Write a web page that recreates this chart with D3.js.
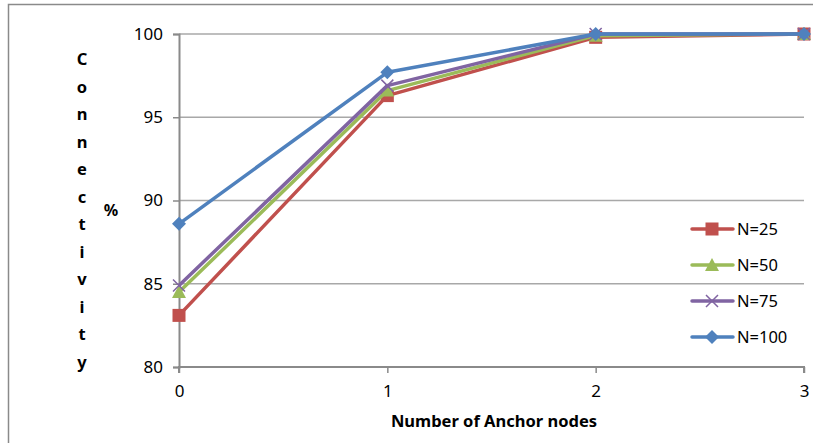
<!DOCTYPE html>
<html>
<head>
<meta charset="utf-8">
<script src="https://cdn.jsdelivr.net/npm/d3@7"></script>
<style>
  html, body { margin: 0; padding: 0; background: #fff; }
  svg { display: block; font-family: "Noto Sans", "Open Sans", sans-serif; }
</style>
</head>
<body>
<svg id="chart" width="813" height="443"></svg>
<script>
// Connectivity (%) versus number of anchor nodes, one line per network size
const anchors = [0, 1, 2, 3];
const yTicks = [80, 85, 90, 95, 100];
const seriesNames = ["N=25", "N=50", "N=75", "N=100"];
const n25  = [83.1, 96.3, 99.8, 100];
const n50  = [84.5, 96.6, 99.9, 100];
const n75  = [84.9, 96.9, 100, 100];
const n100 = [88.6, 97.7, 100, 100];
const seriesColors = ["#C0504D", "#9BBB59", "#8064A2", "#4F81BD"];
const seriesMarkers = ["square", "triangle", "cross", "diamond"];

const series = [n25, n50, n75, n100].map((vals, i) => ({
  name: seriesNames[i], color: seriesColors[i], marker: seriesMarkers[i],
  points: anchors.map((a, j) => ({ x: a, y: vals[j] }))
}));

const svg = d3.select("#chart");

// outer chart frame
svg.append("path")
  .attr("d", "M8.5,443 L8.5,4.5 L813,4.5")
  .attr("fill", "none").attr("stroke", "#8a8a8a").attr("stroke-width", 1.5);

const x = d3.scaleLinear().domain([0, 3]).range([179, 804]);
const y = d3.scaleLinear().domain([80, 100]).range([367, 34]);

// horizontal gridlines
svg.append("g").selectAll("line").data(yTicks.filter(t => t !== 80)).join("line")
  .attr("x1", x(0)).attr("x2", x(3))
  .attr("y1", d => y(d)).attr("y2", d => y(d))
  .attr("stroke", "#a8a8a8").attr("stroke-width", 1.5);

// y axis
const yAxis = svg.append("g").attr("transform", `translate(${x(0)},0)`)
  .call(d3.axisLeft(y).tickValues(yTicks).tickSize(6).tickPadding(10));
yAxis.select(".domain").attr("stroke", "#8a8a8a").attr("stroke-width", 2);
yAxis.selectAll(".tick line").attr("stroke", "#8a8a8a").attr("stroke-width", 1.5);
yAxis.selectAll(".tick text").attr("font-size", 17).attr("fill", "#000")
  .attr("font-family", "'Noto Sans', sans-serif");

// x axis
const xAxis = svg.append("g").attr("transform", `translate(0,${y(80)})`)
  .call(d3.axisBottom(x).tickValues(anchors).tickFormat(d3.format("d")).tickSize(6).tickPadding(12));
xAxis.select(".domain").attr("stroke", "#8a8a8a").attr("stroke-width", 2)
  .attr("d", `M${x(0)},6V0H${x(3)}V6`);
xAxis.selectAll(".tick line").attr("stroke", "#8a8a8a").attr("stroke-width", 1.5);
xAxis.selectAll(".tick text").attr("font-size", 17).attr("fill", "#000")
  .attr("font-family", "'Noto Sans', sans-serif");

// axis titles
svg.append("text")
  .attr("x", 494).attr("y", 427)
  .attr("text-anchor", "middle").attr("font-size", 16.5).attr("font-weight", "bold")
  .attr("fill", "#000").text("Number of Anchor nodes");

const yTitle = "Connectivity".split("");
svg.append("g").selectAll("text").data(yTitle).join("text")
  .attr("x", 82).attr("y", (d, i) => 65 + i * 27.5)
  .attr("text-anchor", "middle").attr("font-size", 16.5).attr("font-weight", "bold")
  .attr("fill", "#000").text(d => d);
svg.append("text")
  .attr("x", 111).attr("y", 216).attr("text-anchor", "middle")
  .attr("font-size", 16).attr("font-weight", "bold").attr("fill", "#000").text("%");

// marker drawing
function drawMarker(sel, type, color) {
  if (type === "square") {
    sel.append("rect").attr("x", -6.5).attr("y", -6.5).attr("width", 13).attr("height", 13)
      .attr("fill", color);
  } else if (type === "triangle") {
    sel.append("path").attr("d", "M0,-7 L7,6 L-7,6 Z").attr("fill", color);
  } else if (type === "diamond") {
    sel.append("path").attr("d", "M0,-7 L7,0 L0,7 L-7,0 Z").attr("fill", color);
  } else if (type === "cross") {
    sel.append("path").attr("d", "M-6,-6 L6,6 M-6,6 L6,-6")
      .attr("stroke", color).attr("stroke-width", 1.5).attr("fill", "none");
  }
}

const line = d3.line().x(d => x(d.x)).y(d => y(d.y));

series.forEach(s => {
  const g = svg.append("g");
  g.append("path").datum(s.points).attr("d", line)
    .attr("fill", "none").attr("stroke", s.color).attr("stroke-width", 3.5)
    .attr("stroke-linejoin", "round");
  g.selectAll("g.m").data(s.points).join("g").attr("class", "m")
    .attr("transform", d => `translate(${x(d.x)},${y(d.y)})`)
    .each(function() { drawMarker(d3.select(this), s.marker, s.color); });
});

// legend
const legend = svg.append("g");
series.forEach((s, i) => {
  const ly = 229 + i * 36;
  const row = legend.append("g").attr("transform", `translate(0,${ly})`);
  row.append("line").attr("x1", 692).attr("x2", 733).attr("y1", 0).attr("y2", 0)
    .attr("stroke", s.color).attr("stroke-width", 3.5).attr("stroke-linecap", "round");
  const m = row.append("g").attr("transform", "translate(712,0)");
  drawMarker(m, s.marker, s.color);
  row.append("text").attr("x", 737).attr("y", 6).attr("font-size", 16.5)
    .attr("fill", "#000").text(s.name);
});
</script>
</body>
</html>
